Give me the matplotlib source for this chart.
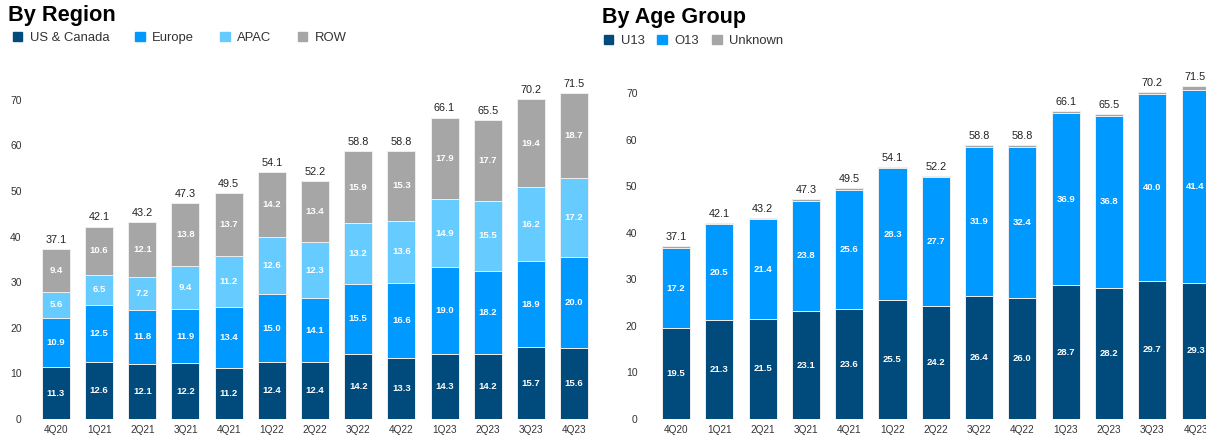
import numpy as np
import matplotlib.pyplot as plt
from matplotlib.patches import Patch

plt.rcParams["font.family"] = ["Liberation Sans", "DejaVu Sans"]

quarters = ["4Q20", "1Q21", "2Q21", "3Q21", "4Q21", "1Q22", "2Q22",
            "3Q22", "4Q22", "1Q23", "2Q23", "3Q23", "4Q23"]
totals = [37.1, 42.1, 43.2, 47.3, 49.5, 54.1, 52.2, 58.8, 58.8, 66.1, 65.5, 70.2, 71.5]

# by region
us_canada = [11.3, 12.6, 12.1, 12.2, 11.2, 12.4, 12.4, 14.2, 13.3, 14.3, 14.2, 15.7, 15.6]
europe = [10.9, 12.5, 11.8, 11.9, 13.4, 15.0, 14.1, 15.5, 16.6, 19.0, 18.2, 18.9, 20.0]
apac = [5.6, 6.5, 7.2, 9.4, 11.2, 12.6, 12.3, 13.2, 13.6, 14.9, 15.5, 16.2, 17.2]
row = [9.4, 10.6, 12.1, 13.8, 13.7, 14.2, 13.4, 15.9, 15.3, 17.9, 17.7, 19.4, 18.7]

# by age group
u13 = [19.5, 21.3, 21.5, 23.1, 23.6, 25.5, 24.2, 26.4, 26.0, 28.7, 28.2, 29.7, 29.3]
o13 = [17.2, 20.5, 21.4, 23.8, 25.6, 28.3, 27.7, 31.9, 32.4, 36.9, 36.8, 40.0, 41.4]
unknown = [0.4, 0.3, 0.3, 0.4, 0.3, 0.3, 0.3, 0.5, 0.4, 0.5, 0.5, 0.5, 0.8]

NAVY = "#004b7c"
BLUE = "#0099ff"
LIGHT = "#66ccff"
GREY = "#a6a6a6"

W, H = 1206, 441
fig = plt.figure(figsize=(W / 100, H / 100), dpi=100)


def stacked(ax, series, colors, labelled):
    x = np.arange(len(quarters))
    bottom = np.zeros(len(quarters))
    for vals, col, show in zip(series, colors, labelled):
        vals = np.array(vals)
        ax.bar(x, vals, 0.65, bottom=bottom, color=col,
               edgecolor="#eeeeee", linewidth=0.7)
        if show:
            for xi, b, v in zip(x, bottom, vals):
                ax.text(xi, b + v / 2, f"{v:.1f}", ha="center", va="center",
                        color="white", fontsize=6.8, fontweight="bold")
        bottom += vals
    for xi, top, t in zip(x, bottom, totals):
        ax.annotate(f"{t:.1f}", (xi, top), xytext=(0, 3),
                    textcoords="offset points", ha="center", va="bottom",
                    fontsize=7.8, color="#222222")
    ax.set_xlim(-0.6, 12.6)
    ax.set_ylim(0, 76)
    ax.set_xticks(x, quarters)
    ax.set_yticks(range(0, 71, 10))
    for s in ax.spines.values():
        s.set_visible(False)
    ax.tick_params(length=0, labelsize=7.5, colors="#333333")
    ax.tick_params(axis="x", pad=4, labelsize=7.2)


# left panel
ax1 = fig.add_axes([30 / W, 22 / H, 570 / W, 346.6 / H])
stacked(ax1, [us_canada, europe, apac, row], [NAVY, BLUE, LIGHT, GREY],
        [True, True, True, True])
ax1.tick_params(axis="y", pad=6)

# right panel
ax2 = fig.add_axes([650 / W, 22 / H, 571.6 / W, 354 / H])
stacked(ax2, [u13, o13, unknown], [NAVY, BLUE, GREY], [True, True, False])
ax2.tick_params(axis="y", pad=9)

fig.text(8 / W, 1 - 15 / H, "By Region", fontsize=15.7, fontweight="bold",
         va="center", ha="left")
fig.text(602 / W, 1 - 17 / H, "By Age Group", fontsize=15.5, fontweight="bold",
         va="center", ha="left")

fig.legend(handles=[Patch(color=c, label=l) for c, l in
                    zip([NAVY, BLUE, LIGHT, GREY],
                        ["US & Canada", "Europe", "APAC", "ROW"])],
           loc="center left", bbox_to_anchor=(6 / W, 1 - 38 / H), ncol=4,
           frameon=False, fontsize=9.4, handlelength=0.75, handleheight=0.75,
           handletextpad=0.55, columnspacing=2.0, borderpad=0, labelcolor="#333333")
fig.legend(handles=[Patch(color=c, label=l) for c, l in
                    zip([NAVY, BLUE, GREY], ["U13", "O13", "Unknown"])],
           loc="center left", bbox_to_anchor=(597 / W, 1 - 41 / H), ncol=3,
           frameon=False, fontsize=9.4, handlelength=0.75, handleheight=0.75,
           handletextpad=0.55, columnspacing=1.0, borderpad=0, labelcolor="#333333")

fig.savefig("out.png", dpi=100)
